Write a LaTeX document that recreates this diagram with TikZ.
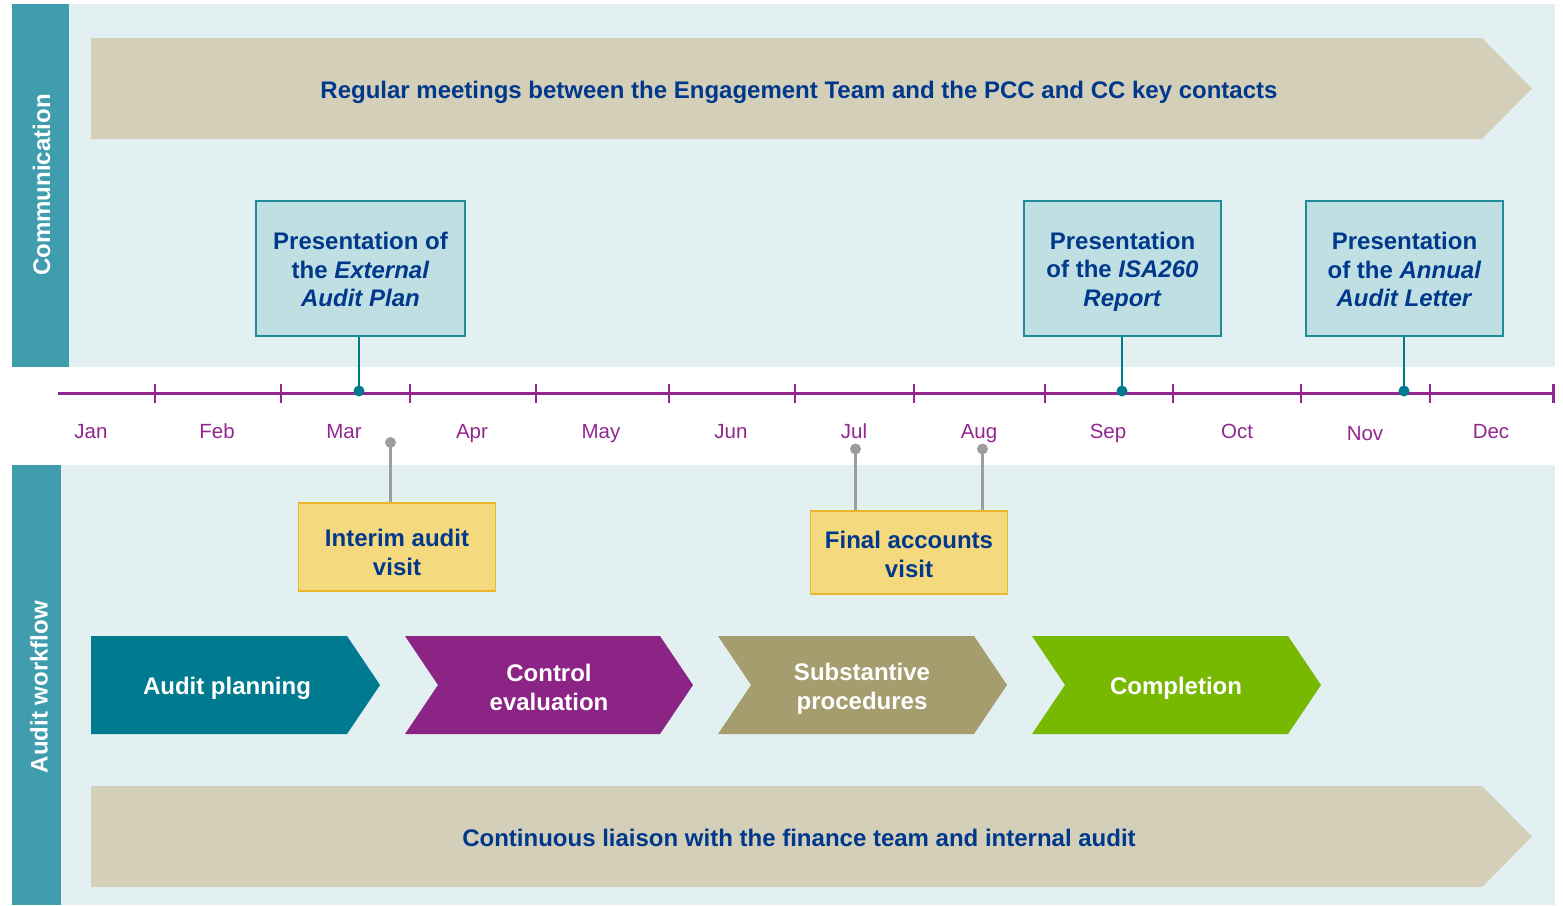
\documentclass[tikz,border=0pt]{standalone}
\usepackage{fontspec}
\setmainfont{Liberation Sans}
\definecolor{panelbg}{RGB}{226,240,242}
\definecolor{sidebar}{RGB}{64,157,174}
\definecolor{banner}{RGB}{212,207,184}
\definecolor{navy}{RGB}{0,56,140}
\definecolor{commfill}{RGB}{192,223,227}
\definecolor{commborder}{RGB}{30,140,155}
\definecolor{pinteal}{RGB}{0,122,142}
\definecolor{tlpurple}{RGB}{146,39,143}
\definecolor{yfill}{RGB}{245,217,126}
\definecolor{yborder}{RGB}{232,184,41}
\definecolor{pingray}{RGB}{157,157,157}
\definecolor{cplan}{RGB}{0,122,142}
\definecolor{cctrl}{RGB}{140,36,134}
\definecolor{csub}{RGB}{165,157,110}
\definecolor{ccomp}{RGB}{118,185,0}
\begin{document}
\begin{tikzpicture}[x=1pt,y=-1pt,
  sidelabel/.style={rotate=90,text=white,font=\fontsize{24}{28}\selectfont\bfseries},
  bannertext/.style={text=navy,text height=17pt,text depth=0pt,font=\fontsize{24}{28}\selectfont\bfseries},
  commbox/.style={draw=commborder,line width=1.3pt,fill=commfill,minimum height=135pt,inner sep=0pt},
  commtext/.style={text=navy,align=center,inner sep=0pt,font=\fontsize{24}{28.5}\selectfont\bfseries},
  yellowbox/.style={draw=yborder,line width=1.3pt,fill=yfill,minimum width=197pt,inner sep=0pt},
  yellowtext/.style={text=navy,align=center,inner sep=0pt,font=\fontsize{24}{29}\selectfont\bfseries},
  month/.style={text=tlpurple,text height=15pt,text depth=0pt,font=\fontsize{20.5}{24}\selectfont},
  chevtext/.style={text=white,align=center,text height=16.5pt,text depth=0pt,
    font=\fontsize{24}{29}\selectfont\bfseries},
  chevtexttwo/.style={text=white,align=center,inner sep=0pt,font=\fontsize{24}{29}\selectfont\bfseries},
  tealpin/.style={draw=pinteal,line width=2.5pt},
  graypin/.style={draw=pingray,line width=2.5pt},
  tline/.style={draw=tlpurple,line width=3pt},
  tick/.style={draw=tlpurple,line width=2.5pt}
]
\useasboundingbox (0,0) rectangle (1563,905);
\fill[white] (0,0) rectangle (1563,905);
% panels
\fill[panelbg] (12,4) rectangle (1555,367);
\fill[sidebar] (12,4) rectangle (69,367);
\fill[panelbg] (12,465) rectangle (1555,905);
\fill[sidebar] (12,465) rectangle (61,905);
\node[sidelabel] (lblcomm) at (41.5,185) {Communication};
\node[sidelabel] (lblaudit) at (39,687) {Audit workflow};
% banners
\fill[banner] (91,38) -- (1482,38) -- (1532,88.5) -- (1482,139) -- (91,139) -- cycle;
\node[bannertext] (meet) at (799,90) {Regular meetings between the Engagement Team and the PCC and CC key contacts};
\fill[banner] (91,786) -- (1482,786) -- (1532,836.5) -- (1482,887) -- (91,887) -- cycle;
\node[bannertext] (liaison) at (799,838) {Continuous liaison with the finance team and internal audit};
% timeline
\coordinate (tlstart) at (58,393);
\coordinate (tlend) at (1555,393);
\draw[tline] (tlstart) -- (tlend);
\foreach \x in {155,281,410,536,669,795,914,1045,1173,1301,1430,1553.5}
  \draw[tick] (\x,384) -- (\x,403);
\foreach \x/\m/\y in {91/Jan/431,217/Feb/431,344/Mar/431,472/Apr/431,601/May/431,731/Jun/431,854/Jul/431,979/Aug/431,1108/Sep/431,1237/Oct/431,1365/Nov/433,1491/Dec/431}
  \node[month] (m\m) at (\x,\y) {\m};
% communication boxes
\node[commbox,minimum width=209pt] (cb1) at (360.5,268.5) {};
\node[commtext,yshift=-1pt] (cb1t) at (cb1.center) {Presentation of\\the \textit{External}\\\textit{Audit Plan}};
\node[commbox,minimum width=197pt] (cb2) at (1122.5,268.5) {};
\node[commtext,yshift=-3pt] (cb2t) at (cb2.center) {Presentation\\of the \textit{ISA260}\\\textit{Report}};
\node[commbox,minimum width=197pt] (cb3) at (1404.5,268.5) {};
\node[commtext,yshift=-1pt] (cb3t) at (cb3.center) {Presentation\\of the \textit{Annual}\\\textit{Audit Letter}};
\coordinate (d1) at (359,391);
\coordinate (d2) at (1122,391);
\coordinate (d3) at (1404,391);
\foreach \d/\b in {d1/cb1,d2/cb2,d3/cb3}{
  \draw[tealpin] (\d |- \b.south) -- (\d);
  \fill[pinteal] (\d) circle (5.5);
}
% audit visits
\node[yellowbox,minimum height=88pt] (yb1) at (397,547) {};
\node[yellowtext,yshift=-5pt] (yb1t) at (yb1.center) {Interim audit\\visit};
\node[yellowbox,minimum height=83pt] (yb2) at (909,552.5) {};
\node[yellowtext,yshift=-2pt] (yb2t) at (yb2.center) {Final accounts\\visit};
\coordinate (g1) at (390.5,442.5);
\coordinate (g2) at (855.5,449);
\coordinate (g3) at (982.5,449);
\foreach \d/\b in {g1/yb1,g2/yb2,g3/yb2}{
  \draw[graypin] (\d) -- (\d |- \b.north);
  \fill[pingray] (\d) circle (5.5);
}
% chevrons
\fill[cplan] (91,636) -- (347,636) -- (380,685) -- (347,734) -- (91,734) -- cycle;
\node[chevtext] (c1) at (227,686) {Audit planning};
\fill[cctrl] (405,636) -- (660,636) -- (693,685) -- (660,734) -- (405,734) -- (438,685) -- cycle;
\node[chevtexttwo,yshift=-1pt] (c2) at (549,686) {Control\\evaluation};
\fill[csub] (718,636) -- (974,636) -- (1007,685) -- (974,734) -- (718,734) -- (751,685) -- cycle;
\node[chevtexttwo,yshift=-3pt] (c3) at (862,686) {Substantive\\procedures};
\fill[ccomp] (1032,636) -- (1288,636) -- (1321,685) -- (1288,734) -- (1032,734) -- (1065,685) -- cycle;
\node[chevtext] (c4) at (1176,686) {Completion};
\end{tikzpicture}
\end{document}
